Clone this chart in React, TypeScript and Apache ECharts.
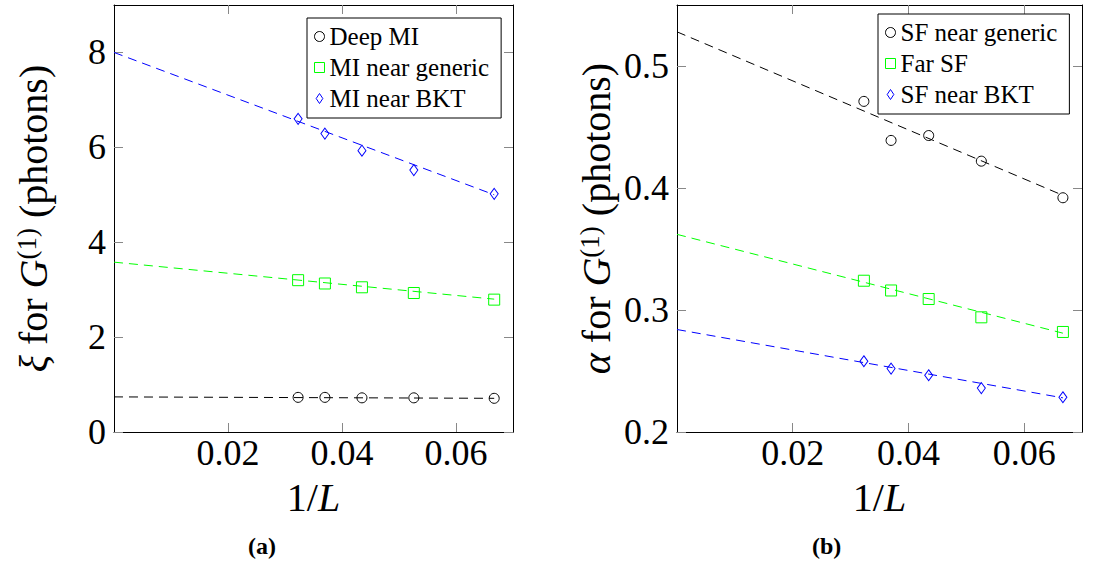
import React, { useEffect, useRef } from 'react';
import * as echarts from 'echarts';

// ---------- data ----------
const invL = [0.0323, 0.037, 0.0435, 0.0526, 0.0667];
const fitX = [0, 0.0667];
const xTicks = [0.02, 0.04, 0.06];
const leftYTicks = [0, 2, 4, 6, 8];
const rightYTicks = [0.2, 0.3, 0.4, 0.5];

const leftNames = ['Deep MI', 'MI near generic', 'MI near BKT'];
const deepMI = [0.73, 0.73, 0.72, 0.72, 0.71];
const miGeneric = [3.2, 3.13, 3.05, 2.93, 2.79];
const miBKT = [6.6, 6.29, 5.93, 5.52, 5.02];
const deepMIFit = [0.74, 0.71];
const miGenericFit = [3.58, 2.8];
const miBKTFit = [8.0, 5.0];

const rightNames = ['SF near generic', 'Far SF', 'SF near BKT'];
const sfGeneric = [0.471, 0.439, 0.443, 0.422, 0.392];
const farSF = [0.324, 0.316, 0.309, 0.294, 0.282];
const sfBKT = [0.258, 0.252, 0.2465, 0.236, 0.2285];
const sfGenericFit = [0.528, 0.394];
const farSFFit = [0.362, 0.281];
const sfBKTFit = [0.284, 0.228];

const colors = ['#000000', '#00ff00', '#0000ff'];
const font = 'serif';
const diamondPath = 'path://M4 0 L8 6 L4 12 L0 6 Z';

const zip = (xs: number[], ys: number[]) => xs.map((x, i) => [x, ys[i]]);

const tok = (size: number, extra: any = {}) => ({
  fontSize: size,
  fontFamily: font,
  color: '#000',
  ...extra,
});

function xAxis(gridIndex: number, main: boolean) {
  return {
    type: 'value',
    gridIndex,
    position: main ? 'bottom' : 'top',
    min: 0,
    max: 0.07,
    axisLine: { show: true, onZero: false, lineStyle: { color: '#000', width: 1 } },
    axisTick: { show: true, inside: true, length: 9, customValues: xTicks, lineStyle: { color: '#888', width: 1 } },
    axisLabel: main
      ? { show: true, customValues: xTicks, ...tok(36), margin: 3 }
      : { show: false },
    splitLine: { show: false },
    name: main ? '1/{i|L}' : '',
    nameLocation: 'middle',
    nameGap: 45,
    nameTextStyle: {
      ...tok(40),
      rich: { i: tok(40, { fontStyle: 'italic' }) },
    },
  };
}

function yAxis(gridIndex: number, main: boolean, min: number, max: number, ticks: number[], sym: string) {
  return {
    type: 'value',
    gridIndex,
    position: main ? 'left' : 'right',
    min,
    max,
    axisLine: { show: true, onZero: false, lineStyle: { color: '#000', width: 1 } },
    axisTick: { show: true, inside: true, length: 9, customValues: ticks, lineStyle: { color: '#888', width: 1 } },
    axisLabel: main
      ? { show: true, customValues: ticks, ...tok(36), margin: 8 }
      : { show: false },
    splitLine: { show: false },
    name: main ? `{i|${sym}} for {i|G}{s|(1)} (photons)` : '',
    nameLocation: 'middle',
    nameRotate: 90,
    nameGap: 61,
    nameTextStyle: {
      ...tok(40),
      rich: {
        i: tok(40, { fontStyle: 'italic' }),
        s: tok(27, { verticalAlign: 'top' }),
      },
    },
  };
}

function scatter(name: string, ys: number[], symbol: string, size: any, color: string, ai: number) {
  return {
    type: 'scatter',
    name,
    xAxisIndex: ai,
    yAxisIndex: ai,
    data: zip(invL, ys),
    symbol,
    symbolSize: size,
    silent: true,
    z: 2,
    itemStyle: { color: '#fff', borderColor: color, borderWidth: 1, opacity: 1 },
  };
}

function fit(name: string, ys: number[], color: string, ai: number) {
  return {
    type: 'line',
    name,
    xAxisIndex: ai,
    yAxisIndex: ai,
    data: zip(fitX, ys),
    showSymbol: false,
    symbol: 'none',
    silent: true,
    z: 3,
    lineStyle: { color, width: 1, type: [9, 6] },
  };
}

const symbols = ['circle', 'rect', 'diamond'];
const legendIcons = ['circle', 'rect', diamondPath];
const sizes: any[] = [10, 11, [8, 11]];

function legendData(names: string[]) {
  return names.map((n, i) => ({
    name: n,
    icon: legendIcons[i],
    itemStyle: { color: '#fff', borderColor: colors[i], borderWidth: 1 },
  }));
}

function legend(names: string[], left: number, top: number) {
  return {
    orient: 'vertical',
    left,
    top,
    data: legendData(names),
    selectedMode: false,
    borderColor: '#000',
    borderWidth: 1,
    borderRadius: 0,
    backgroundColor: '#fff',
    padding: [6, 12, 7, 7],
    itemGap: 6,
    itemWidth: 10,
    itemHeight: 10,
    textStyle: { ...tok(25), lineHeight: 25 },
  };
}

export default function App() {
  const ref = useRef<HTMLDivElement>(null);
  useEffect(() => {
    if (!ref.current) return;
    const chart = echarts.init(ref.current, null, { renderer: 'svg' });
    const leftS = [deepMI, miGeneric, miBKT];
    const leftF = [deepMIFit, miGenericFit, miBKTFit];
    const rightS = [sfGeneric, farSF, sfBKT];
    const rightF = [sfGenericFit, farSFFit, sfBKTFit];
    const series: any[] = [];
    leftNames.forEach((n, i) => series.push(scatter(n, leftS[i], symbols[i], sizes[i], colors[i], 0)));
    leftNames.forEach((n, i) => series.push(fit(n + ' fit', leftF[i], colors[i], 0)));
    rightNames.forEach((n, i) => series.push(scatter(n, rightS[i], symbols[i], sizes[i], colors[i], 2)));
    rightNames.forEach((n, i) => series.push(fit(n + ' fit', rightF[i], colors[i], 2)));

    chart.setOption({
      animation: false,
      backgroundColor: '#fff',
      textStyle: { fontFamily: font },
      grid: [
        { left: 114, top: 5, width: 399, height: 427 },
        { left: 677, top: 5, width: 405, height: 427 },
      ],
      xAxis: [xAxis(0, true), xAxis(0, false), xAxis(1, true), xAxis(1, false)],
      yAxis: [
        yAxis(0, true, 0, 9, leftYTicks, 'ξ'),
        yAxis(0, false, 0, 9, leftYTicks, 'ξ'),
        yAxis(1, true, 0.2, 0.55, rightYTicks, 'α'),
        yAxis(1, false, 0.2, 0.55, rightYTicks, 'α'),
      ],
      legend: [legend(leftNames, 307, 18), legend(rightNames, 878, 14)],
      graphic: [
        {
          type: 'text',
          left: 248,
          top: 534,
          style: { text: '(a)', font: `bold 24px ${font}`, fill: '#000' },
        },
        {
          type: 'text',
          left: 812,
          top: 534,
          style: { text: '(b)', font: `bold 24px ${font}`, fill: '#000' },
        },
      ],
      series,
    });
    return () => chart.dispose();
  }, []);
  return (
    <div
      ref={ref}
      style={{ position: 'fixed', left: 0, top: 0, width: 1114, height: 569, background: '#fff' }}
    />
  );
}
